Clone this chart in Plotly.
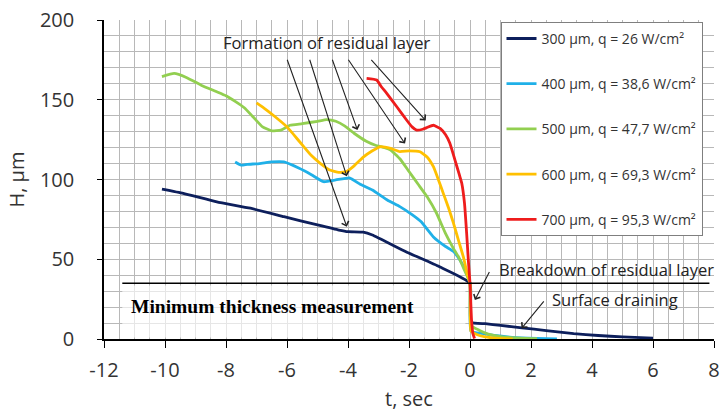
import plotly.graph_objects as go

# ---------------- data ----------------
series_names = [
    "300 µm, q = 26 W/cm²",
    "400 µm, q = 38,6 W/cm²",
    "500 µm, q = 47,7 W/cm²",
    "600 µm, q = 69,3 W/cm²",
    "700 µm, q = 95,3 W/cm²",
]
series_colors = ["#0d1f5c", "#1fb0e8", "#92cf50", "#ffc000", "#ee1c1c"]

t_300 = [-10.1, -9.4, -8.3, -7.2, -6.1, -5.0, -4.3, -4.0, -3.5, -3.2, -2.1, -1.0, 0.0,
         0.03, 0.5, 1.0, 1.7, 2.5, 3.4, 4.2, 5.0, 6.0]
h_300 = [94, 91.3, 86, 82, 76.7, 71.5, 68.3, 67.3, 67, 65.2, 54.7, 45.3, 35,
         10.5, 9.6, 8.5, 7, 5.3, 3.4, 2.2, 1.3, 0.6]

t_400 = [-7.7, -7.5, -7.3, -6.9, -6.5, -6.1, -5.6, -5.2, -4.8, -4.4, -3.95, -3.6, -3.2,
         -2.7, -2.3, -1.9, -1.6, -1.2, -0.8, -0.55, -0.33, -0.15, 0.0,
         0.03, 0.4, 0.8, 1.3, 1.9, 2.5, 2.85]
h_400 = [111, 109, 109.5, 110, 111, 111, 107, 103, 98.6, 99.7, 101, 97, 93.4,
         87, 83, 78, 73.5, 64, 58, 55, 49.5, 43, 35,
         5, 3.5, 2.2, 1.2, 0.6, 0.2, 0.1]

t_500 = [-10.1, -9.7, -9.3, -8.8, -8.3, -8.0, -7.7, -7.4, -7.1, -6.8, -6.5, -6.2, -5.9,
         -5.5, -5.0, -4.7, -4.4, -4.1, -3.8, -3.4, -3.1, -2.8, -2.6, -2.3, -2.0, -1.7,
         -1.4, -1.1, -0.8, -0.55, -0.38, -0.2, 0.0, 0.03, 0.3, 0.6, 1.0, 1.5, 2.2]
h_500 = [164.5, 166.5, 164, 159, 155, 152.5, 149, 145, 139, 133, 130.5, 131, 134,
         135, 136.5, 137.6, 136.5, 133.5, 129, 124, 121.5, 120, 118.5, 113, 105, 97,
         89, 79, 66, 57, 51.6, 44, 35, 8.5, 5.5, 3, 1.5, 0.7, 0.2]

t_600 = [-7.0, -6.7, -6.4, -6.0, -5.6, -5.2, -4.9, -4.6, -4.3, -4.05, -3.8, -3.5, -3.2,
         -2.95, -2.6, -2.3, -2.0, -1.64, -1.4, -1.2, -1.0, -0.87, -0.7, -0.54, -0.38,
         -0.22, -0.08, 0.0, 0.03, 0.2, 0.5, 1.0, 1.4]
h_600 = [148, 144, 139.5, 133, 124, 115, 110, 106, 104.5, 105, 108.5, 114, 118,
         120.5, 119.5, 117.5, 118, 117.4, 114, 108, 98, 91, 82, 72.5, 62,
         51.6, 40, 35, 5, 3, 1.3, 0.3, 0.0]

t_700 = [-3.39, -3.06, -2.9, -2.73, -2.4, -2.08, -1.9, -1.75, -1.55, -1.42, -1.2, -0.98,
         -0.8, -0.66, -0.49, -0.35, -0.27, -0.18, -0.11, -0.05, 0.0, 0.05, 0.1, 0.15]
h_700 = [163.4, 162.4, 158, 154, 145.6, 137.3, 133, 131, 131.5, 132.5, 134, 132,
         128, 122.7, 112, 103, 97.6, 85, 66.3, 48, 35, 12, 3, 0.3]

series_t = [t_300, t_400, t_500, t_600, t_700]
series_h = [h_300, h_400, h_500, h_600, h_700]

min_thickness_level = 35
min_line_t = [-11.4, 7.85]

formation_label = "Formation of residual layer"
formation_label_pos = (-4.69, 185.6)
formation_tails_t = [-6.01, -5.27, -4.53, -4.02, -3.28]
formation_tails_h = [176, 176, 176, 176, 176]
formation_heads_t = [-4.04, -4.04, -3.69, -2.13, -1.45]
formation_heads_h = [70.4, 102, 131, 122.5, 137]

breakdown_label = "Breakdown of residual layer"
breakdown_label_pos = (4.49, 43.3)
breakdown_arrow = (0.66, 43, 0.16, 24.5)

draining_label = "Surface draining"
draining_label_pos = (4.75, 25)
draining_arrow = (2.46, 24.5, 1.69, 6.7)

min_label = "Minimum thickness measurement"
min_label_pos = (-6.48, 20.3)
min_box = (-11.4, -0.15, 1, 33.5)

x_ticks = list(range(-12, 9, 2))
x_ticktext = [str(v) for v in x_ticks]
y_ticks = [0, 50, 100, 150, 200]

# ---------------- figure ----------------
fig = go.Figure()
for name, col, tt, hh in zip(series_names, series_colors, series_t, series_h):
    fig.add_trace(go.Scatter(x=tt, y=hh, mode="lines", name=name, legendgroup=name,
                             line=dict(color=col, width=2.8, shape="spline", smoothing=0.4)))

# faded box behind the "minimum thickness" text
fig.add_shape(type="rect", xref="x", yref="y", x0=min_box[0], x1=min_box[1],
              y0=min_box[2], y1=min_box[3], fillcolor="white", opacity=0.65,
              line=dict(width=0), layer="between")
fig.add_shape(type="line", xref="x", yref="y", x0=min_line_t[0], x1=min_line_t[1],
              y0=min_thickness_level, y1=min_thickness_level,
              line=dict(color="black", width=1.5))

txt_font = dict(family="Open Sans", size=16.5, color="#222")
fig.add_annotation(x=formation_label_pos[0], y=formation_label_pos[1], text=formation_label,
                   showarrow=False, font=txt_font, xref="x", yref="y")
for ta, ha, tb, hb in zip(formation_tails_t, formation_tails_h, formation_heads_t, formation_heads_h):
    fig.add_annotation(x=tb, y=hb, ax=ta, ay=ha, xref="x", yref="y", axref="x", ayref="y",
                       text="", showarrow=True, arrowhead=4, arrowsize=1.3, arrowwidth=1.1,
                       arrowcolor="#222")
fig.add_annotation(x=breakdown_label_pos[0], y=breakdown_label_pos[1], text=breakdown_label,
                   showarrow=False, font=txt_font, xref="x", yref="y")
fig.add_annotation(x=breakdown_arrow[2], y=breakdown_arrow[3], ax=breakdown_arrow[0],
                   ay=breakdown_arrow[1], xref="x", yref="y", axref="x", ayref="y", text="",
                   showarrow=True, arrowhead=4, arrowsize=1.3, arrowwidth=1.1, arrowcolor="#222")
fig.add_annotation(x=draining_label_pos[0], y=draining_label_pos[1], text=draining_label,
                   showarrow=False, font=txt_font, xref="x", yref="y")
fig.add_annotation(x=draining_arrow[2], y=draining_arrow[3], ax=draining_arrow[0],
                   ay=draining_arrow[1], xref="x", yref="y", axref="x", ayref="y", text="",
                   showarrow=True, arrowhead=4, arrowsize=1.3, arrowwidth=1.1, arrowcolor="#222")
fig.add_annotation(x=min_label_pos[0], y=min_label_pos[1], text="<b>" + min_label + "</b>",
                   showarrow=False, xref="x", yref="y",
                   font=dict(family="Liberation Serif", size=19.5, color="black"))

grid_col = "#b8b8b8"
fig.update_layout(
    width=722, height=414,
    margin=dict(l=104, r=8, t=20, b=75, autoexpand=False),
    paper_bgcolor="white", plot_bgcolor="white",
    font=dict(family="Open Sans", color="#333"),
    legend=dict(x=0.650, y=0.994, xanchor="left", yanchor="top",
                bgcolor="white", bordercolor="#7f7f7f", borderwidth=1,
                font=dict(family="Open Sans", size=14, color="#333"),
                tracegroupgap=24, traceorder="grouped"),
    xaxis=dict(range=[-12, 8], tickvals=x_ticks, ticktext=x_ticktext, showline=True,
               linecolor="black", automargin=False,
               linewidth=1.5, ticks="outside", ticklen=7, tickcolor="black",
               tickfont=dict(size=20, color="#333"), showgrid=True, gridcolor=grid_col,
               gridwidth=1, zeroline=False, ticklabelstandoff=5,
               minor=dict(dtick=0.5, tick0=0, showgrid=True, gridcolor=grid_col, gridwidth=1),
               title=dict(text="t, sec", font=dict(size=20, color="#333"), standoff=10)),
    yaxis=dict(range=[0, 200], tickvals=y_ticks, showline=True, linecolor="black",
               linewidth=1.5, ticks="outside", ticklen=5, tickcolor="black", automargin=False,
               tickfont=dict(size=20, color="#333"), showgrid=True, gridcolor=grid_col,
               gridwidth=1, zeroline=False, ticklabelstandoff=19,
               minor=dict(dtick=10, tick0=0, showgrid=True, gridcolor=grid_col, gridwidth=1),
               title=dict(text="H, µm", font=dict(size=20, color="#333"), standoff=10)),
)

fig.write_html("out.html", config={"displayModeBar": False},
               post_script="document.body.style.margin='0px';")
